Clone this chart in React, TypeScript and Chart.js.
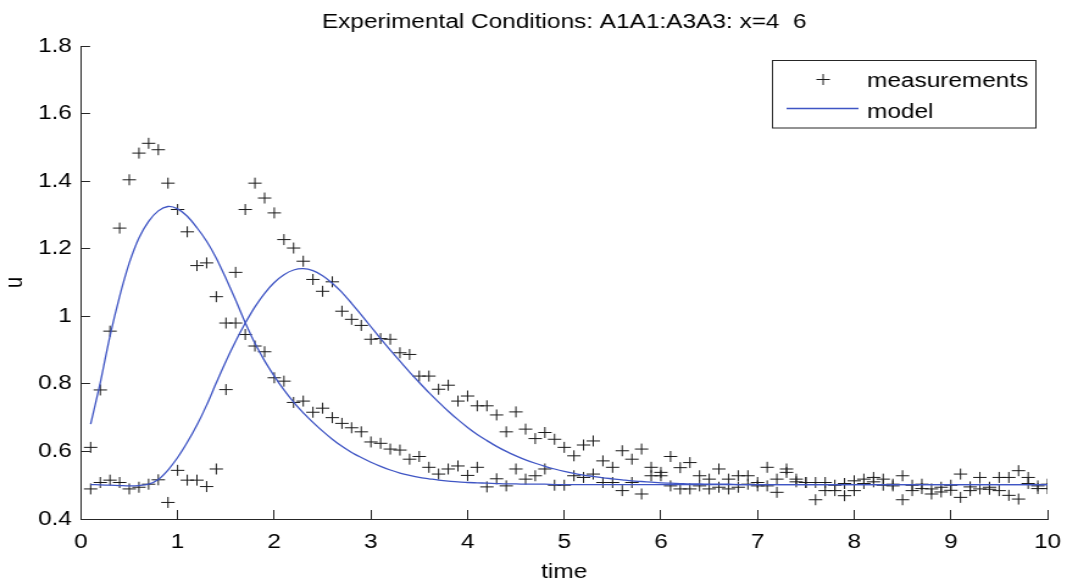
import React, { useEffect, useRef } from 'react';
import { Chart, registerables } from 'chart.js';

Chart.register(...registerables);

const TITLE = 'Experimental Conditions: A1A1:A3A3: x=4  6';
const X_LABEL = 'time';
const Y_LABEL = 'u';
const LEGEND_MEAS = 'measurements';
const LEGEND_MODEL = 'model';

const X_TICKS = [0, 1, 2, 3, 4, 5, 6, 7, 8, 9, 10];
const Y_TICKS = [0.4, 0.6, 0.8, 1, 1.2, 1.4, 1.6, 1.8];

const TIME = [
  0.1, 0.2, 0.3, 0.4, 0.5, 0.6, 0.7, 0.8, 0.9, 1.0,
  1.1, 1.2, 1.3, 1.4, 1.5, 1.6, 1.7, 1.8, 1.9, 2.0,
  2.1, 2.2, 2.3, 2.4, 2.5, 2.6, 2.7, 2.8, 2.9, 3.0,
  3.1, 3.2, 3.3, 3.4, 3.5, 3.6, 3.7, 3.8, 3.9, 4.0,
  4.1, 4.2, 4.3, 4.4, 4.5, 4.6, 4.7, 4.8, 4.9, 5.0,
  5.1, 5.2, 5.3, 5.4, 5.5, 5.6, 5.7, 5.8, 5.9, 6.0,
  6.1, 6.2, 6.3, 6.4, 6.5, 6.6, 6.7, 6.8, 6.9, 7.0,
  7.1, 7.2, 7.3, 7.4, 7.5, 7.6, 7.7, 7.8, 7.9, 8.0,
  8.1, 8.2, 8.3, 8.4, 8.5, 8.6, 8.7, 8.8, 8.9, 9.0,
  9.1, 9.2, 9.3, 9.4, 9.5, 9.6, 9.7, 9.8, 9.9, 10.0,
];

const MEAS_1 = [
  0.612, 0.782, 0.956, 1.261, 1.404, 1.483, 1.512, 1.493, 1.394, 1.316,
  1.250, 1.150, 1.158, 1.058, 0.980, 0.980, 0.946, 0.912, 0.895, 0.818,
  0.808, 0.745, 0.749, 0.716, 0.728, 0.700, 0.683, 0.670, 0.658, 0.628,
  0.624, 0.607, 0.604, 0.577, 0.585, 0.553, 0.533, 0.548, 0.557, 0.529,
  0.553, 0.495, 0.519, 0.498, 0.548, 0.518, 0.528, 0.548, 0.500, 0.500,
  0.528, 0.523, 0.533, 0.508, 0.508, 0.484, 0.508, 0.474, 0.528, 0.528,
  0.498, 0.489, 0.489, 0.498, 0.489, 0.494, 0.489, 0.494, 0.503, 0.498,
  0.498, 0.479, 0.538, 0.510, 0.508, 0.457, 0.484, 0.484, 0.469, 0.484,
  0.505, 0.510, 0.500, 0.498, 0.457, 0.484, 0.490, 0.489, 0.480, 0.485,
  0.464, 0.484, 0.489, 0.488, 0.484, 0.470, 0.459, 0.505, 0.490, 0.490,
];

const MEAS_2 = [
  0.489, 0.508, 0.515, 0.508, 0.489, 0.494, 0.503, 0.516, 0.449, 0.544,
  0.515, 0.515, 0.496, 0.548, 0.783, 1.130, 1.316, 1.394, 1.350, 1.306,
  1.227, 1.202, 1.163, 1.109, 1.074, 1.102, 1.015, 0.991, 0.973, 0.932,
  0.934, 0.932, 0.892, 0.887, 0.823, 0.823, 0.784, 0.796, 0.749, 0.764,
  0.735, 0.735, 0.708, 0.658, 0.717, 0.666, 0.638, 0.656, 0.636, 0.612,
  0.587, 0.619, 0.631, 0.572, 0.553, 0.602, 0.577, 0.607, 0.553, 0.538,
  0.585, 0.552, 0.567, 0.528, 0.518, 0.548, 0.518, 0.528, 0.528, 0.508,
  0.553, 0.518, 0.548, 0.518, 0.508, 0.508, 0.508, 0.500, 0.505, 0.513,
  0.518, 0.523, 0.518, 0.503, 0.528, 0.500, 0.503, 0.474, 0.494, 0.500,
  0.533, 0.495, 0.523, 0.494, 0.523, 0.523, 0.543, 0.523, 0.498, 0.503,
];

const MODEL_1 = [
  0.681, 0.804, 0.941, 1.059, 1.158, 1.232, 1.281, 1.312, 1.325, 1.318,
  1.296, 1.262, 1.222, 1.172, 1.112, 1.048, 0.981, 0.920, 0.868, 0.823,
  0.782, 0.746, 0.714, 0.686, 0.660, 0.636, 0.615, 0.597, 0.582, 0.568,
  0.556, 0.545, 0.536, 0.529, 0.523, 0.519, 0.515, 0.512, 0.510, 0.508,
  0.507, 0.506, 0.505, 0.504, 0.504, 0.503, 0.503, 0.503, 0.502, 0.502,
  0.502, 0.502, 0.502, 0.502, 0.502, 0.502, 0.502, 0.502, 0.502, 0.502,
  0.502, 0.502, 0.502, 0.502, 0.502, 0.502, 0.502, 0.502, 0.502, 0.502,
  0.502, 0.502, 0.502, 0.502, 0.502, 0.502, 0.502, 0.502, 0.502, 0.502,
  0.502, 0.502, 0.502, 0.502, 0.502, 0.502, 0.502, 0.502, 0.502, 0.502,
  0.502, 0.502, 0.502, 0.502, 0.502, 0.502, 0.502, 0.502, 0.502, 0.502,
];

const MODEL_2 = [
  0.502, 0.501, 0.500, 0.499, 0.498, 0.499, 0.503, 0.517, 0.545, 0.582,
  0.627, 0.678, 0.737, 0.803, 0.867, 0.926, 0.980, 1.028, 1.068, 1.100,
  1.123, 1.137, 1.141, 1.135, 1.120, 1.098, 1.071, 1.038, 1.004, 0.969,
  0.934, 0.900, 0.867, 0.835, 0.804, 0.774, 0.746, 0.719, 0.694, 0.671,
  0.650, 0.632, 0.615, 0.600, 0.587, 0.575, 0.565, 0.556, 0.548, 0.541,
  0.535, 0.530, 0.526, 0.522, 0.519, 0.516, 0.513, 0.511, 0.509, 0.507,
  0.506, 0.505, 0.504, 0.504, 0.503, 0.503, 0.503, 0.502, 0.502, 0.502,
  0.502, 0.502, 0.502, 0.502, 0.502, 0.502, 0.502, 0.502, 0.502, 0.502,
  0.502, 0.502, 0.502, 0.502, 0.502, 0.502, 0.502, 0.502, 0.502, 0.502,
  0.502, 0.502, 0.502, 0.502, 0.502, 0.502, 0.502, 0.502, 0.502, 0.502,
];

// layout (canvas is drawn narrower and stretched horizontally, like the reference)
const PAGE_W = 1067;
const PAGE_H = 586;
const STRETCH = 1.22;
const CW = Math.round(PAGE_W / STRETCH);
const PLOT_LEFT = 81 / STRETCH;
const PLOT_RIGHT = 1048 / STRETCH;
const PLOT_TOP = 46;
const PLOT_BOTTOM = 519;
const FONT_FAMILY = "'Liberation Sans', Arial, Helvetica, sans-serif";
const FONT_SIZE = 20;
const AXIS_COLOR = '#262626';
const TEXT_COLOR = '#000000';
const MARKER_COLOR = '#1a1a1a';
const MODEL_COLOR = '#3f55c4';
const MARKER_R = 5.5;

const toXY = (ys: number[]) => ys.map((y, i) => ({ x: TIME[i], y }));

const overlayPlugin = {
  id: 'overlay',
  afterDraw(chart: any) {
    const { ctx, chartArea } = chart;
    ctx.save();
    ctx.fillStyle = TEXT_COLOR;
    ctx.font = `${FONT_SIZE}px ${FONT_FAMILY}`;
    ctx.textAlign = 'center';
    ctx.textBaseline = 'alphabetic';
    ctx.fillText(TITLE, (chartArea.left + chartArea.right) / 2, 28);

    // legend box
    const bx = chartArea.right - 226;
    const by = chartArea.top + 13.5;
    const bw = 216;
    const bh = 67.5;
    ctx.fillStyle = '#ffffff';
    ctx.fillRect(bx, by, bw, bh);
    ctx.strokeStyle = AXIS_COLOR;
    ctx.lineWidth = 1;
    ctx.strokeRect(Math.round(bx) + 0.5, Math.round(by) + 0.5, bw, bh);

    // marker sample
    const mx = bx + 42;
    const my = by + 20;
    ctx.strokeStyle = MARKER_COLOR;
    ctx.beginPath();
    ctx.moveTo(mx - MARKER_R, my);
    ctx.lineTo(mx + MARKER_R, my);
    ctx.moveTo(mx, my - MARKER_R);
    ctx.lineTo(mx, my + MARKER_R);
    ctx.stroke();

    // line sample
    ctx.strokeStyle = MODEL_COLOR;
    ctx.lineWidth = 1.3;
    ctx.beginPath();
    ctx.moveTo(bx + 12, by + 49);
    ctx.lineTo(bx + 71, by + 49);
    ctx.stroke();

    ctx.fillStyle = TEXT_COLOR;
    ctx.textAlign = 'left';
    ctx.fillText(LEGEND_MEAS, bx + 78, by + 27.5);
    ctx.fillText(LEGEND_MODEL, bx + 78, by + 58.5);
    ctx.restore();
  },
};

export default function App() {
  const canvasRef = useRef<HTMLCanvasElement | null>(null);

  useEffect(() => {
    const canvas = canvasRef.current;
    if (!canvas) return;
    const font = { family: FONT_FAMILY, size: FONT_SIZE };
    const chart = new Chart(canvas, {
      type: 'scatter',
      data: {
        datasets: [
          {
            label: 'model 1',
            data: toXY(MODEL_1),
            showLine: true,
            borderColor: MODEL_COLOR,
            backgroundColor: MODEL_COLOR,
            borderWidth: 1.3,
            pointRadius: 0,
            tension: 0.3,
          },
          {
            label: 'model 2',
            data: toXY(MODEL_2),
            showLine: true,
            borderColor: MODEL_COLOR,
            backgroundColor: MODEL_COLOR,
            borderWidth: 1.3,
            pointRadius: 0,
            tension: 0.3,
          },
          {
            label: 'measurements 1',
            data: toXY(MEAS_1),
            showLine: false,
            pointStyle: 'cross',
            pointRadius: MARKER_R,
            pointBorderWidth: 1,
            borderColor: MARKER_COLOR,
            backgroundColor: MARKER_COLOR,
          },
          {
            label: 'measurements 2',
            data: toXY(MEAS_2),
            showLine: false,
            pointStyle: 'cross',
            pointRadius: MARKER_R,
            pointBorderWidth: 1,
            borderColor: MARKER_COLOR,
            backgroundColor: MARKER_COLOR,
          },
        ],
      },
      options: {
        responsive: false,
        animation: false,
        devicePixelRatio: 1,
        layout: { padding: { left: 0, right: CW - PLOT_RIGHT, top: PLOT_TOP, bottom: 0 } },
        plugins: {
          legend: { display: false },
          title: { display: false },
          tooltip: { enabled: false },
        },
        scales: {
          x: {
            type: 'linear',
            min: 0,
            max: 10,
            afterBuildTicks: (s: any) => {
              s.ticks = X_TICKS.map((v) => ({ value: v }));
            },
            afterFit: (s: any) => {
              s.height = PAGE_H - PLOT_BOTTOM;
              s.paddingLeft = 0;
              s.paddingRight = 0;
            },
            grid: {
              display: true,
              drawOnChartArea: false,
              drawTicks: true,
              tickLength: -9,
              color: AXIS_COLOR,
              lineWidth: 1,
            },
            border: { display: true, color: AXIS_COLOR, width: 1 },
            ticks: {
              padding: 20,
              font,
              color: TEXT_COLOR,
              maxRotation: 0,
              autoSkip: false,
              callback: (v: any) => String(v),
            },
            title: {
              display: true,
              text: X_LABEL,
              font,
              color: TEXT_COLOR,
              padding: { top: 0, bottom: 2 },
            },
          },
          y: {
            type: 'linear',
            min: 0.4,
            max: 1.8,
            afterBuildTicks: (s: any) => {
              s.ticks = Y_TICKS.map((v) => ({ value: v }));
            },
            afterFit: (s: any) => {
              s.width = PLOT_LEFT;
              s.paddingTop = 0;
              s.paddingBottom = 0;
            },
            grid: {
              display: true,
              drawOnChartArea: false,
              drawTicks: true,
              tickLength: -7.5,
              color: AXIS_COLOR,
              lineWidth: 1,
            },
            border: { display: true, color: AXIS_COLOR, width: 1 },
            ticks: {
              padding: 14.9,
              font,
              color: TEXT_COLOR,
              autoSkip: false,
              callback: (v: any) => String(Number(Number(v).toFixed(1))),
            },
            title: {
              display: true,
              text: Y_LABEL,
              font,
              color: TEXT_COLOR,
              padding: { top: 0, bottom: 0 },
            },
          },
        },
      },
      plugins: [overlayPlugin],
    } as any);
    return () => chart.destroy();
  }, []);

  return (
    <div style={{ position: 'absolute', left: 0, top: 0, width: PAGE_W, height: PAGE_H, background: '#fff' }}>
      <canvas
        ref={canvasRef}
        width={CW}
        height={PAGE_H}
        style={{ display: 'block', width: `${PAGE_W}px`, height: `${PAGE_H}px` }}
      />
    </div>
  );
}
